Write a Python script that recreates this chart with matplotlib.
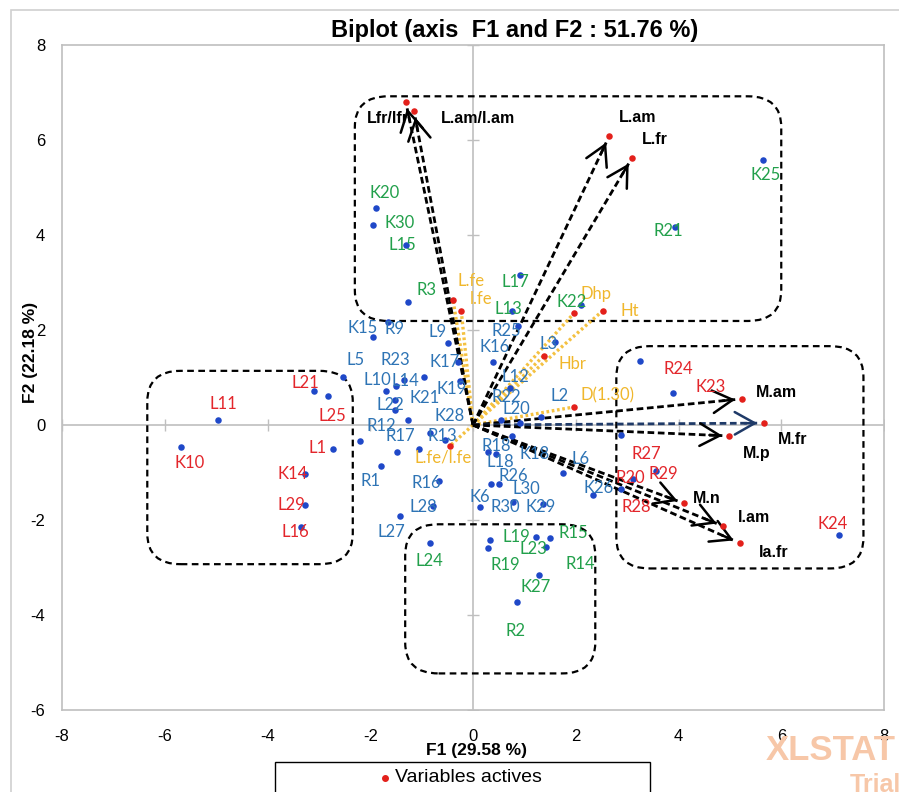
import numpy as np
import matplotlib
matplotlib.use("Agg")
import matplotlib.pyplot as plt
from matplotlib.patches import FancyBboxPatch, Rectangle

plt.rcParams['axes.unicode_minus'] = False

# active variables (red dots, black dashed arrows)
act_names = ["Lfr/lfr", "L.am/l.am", "L.am", "L.fr", "M.am", "M.fr", "M.p", "M.n", "l.am", "la.fr"]
act_x = [-1.31, -1.15, 2.65, 3.10, 5.24, 5.67, 4.99, 4.11, 4.87, 5.20]
act_y = [6.81, 6.62, 6.08, 5.63, 0.55, 0.04, -0.23, -1.65, -2.13, -2.49]

# supplementary variables (yellow dotted lines)
sup_names = ["L.fe", "l.fe", "Dhp", "Ht", "Hbr", "D(1.30)", "L.fe/l.fe"]
sup_x = [-0.39, -0.23, 1.97, 2.53, 1.38, 1.97, -0.45]
sup_y = [2.64, 2.41, 2.36, 2.41, 1.46, 0.38, -0.44]

# observations, by group colour of their label
green_names = ["K20", "K30", "L15", "R3", "L17", "L13", "K22", "R21", "K25",
               "L24", "L19", "R19", "L23", "R15", "R14", "K27", "R2"]
green_x = [-1.89, -1.95, -1.31, -1.27, 0.92, 0.76, 2.11, 3.94, 5.65,
           -0.84, 0.33, 0.29, 1.23, 1.50, 1.42, 1.29, 0.86]
green_y = [4.56, 4.22, 3.78, 2.59, 3.16, 2.41, 2.53, 4.16, 5.57,
           -2.49, -2.43, -2.59, -2.36, -2.38, -2.57, -3.16, -3.73]

red_names = ["L21", "L25", "L11", "K10", "L1", "K14", "L29", "L16",
             "R24", "K23", "R27", "R20", "R28", "R29", "K24"]
red_x = [-3.10, -2.83, -4.97, -5.69, -2.73, -3.27, -3.27, -3.35,
         3.26, 3.90, 2.88, 3.12, 2.88, 3.57, 7.12]
red_y = [0.72, 0.61, 0.11, -0.46, -0.51, -1.03, -1.69, -2.15,
         1.35, 0.68, -0.21, -1.14, -1.35, -0.97, -2.32]

blue_names = ["K15", "R9", "L9", "R25", "K16", "L3", "L5", "R23", "K17", "L10",
              "L14", "K19", "L12", "L2", "L22", "K21", "R22", "L20", "K28", "R12",
              "R17", "R13", "R18", "L18", "K18", "L6", "R1", "R16", "R26", "L30",
              "K26", "K6", "R30", "K29", "L28", "L27"]
blue_x = [-1.95, -1.66, -0.49, 0.88, 0.39, 1.60, -2.53, -1.50, -0.29, -1.70,
          -1.35, -0.25, 0.72, 1.33, -1.52, -0.96, 0.55, 0.92, -0.84, -2.20,
          -1.48, -0.55, 0.29, 0.45, 0.76, 1.75, -1.79, -0.66, 0.51, 0.35,
          2.34, 0.14, 0.78, 1.36, -0.78, -1.42]
blue_y = [1.86, 2.17, 1.73, 2.09, 1.33, 1.75, 1.01, 0.82, 1.33, 0.72,
          0.95, 0.93, 0.78, 0.17, 0.53, 1.01, 0.11, 0.04, -0.17, -0.34,
          -0.57, -0.32, -0.57, -0.61, -0.23, -1.01, -0.86, -1.18, -1.24, -1.24,
          -1.48, -1.73, -1.62, -1.67, -1.71, -1.92]

# observations whose label is hidden under other text
hidden_x = [-1.52, -1.27, -1.05]
hidden_y = [0.32, 0.11, -0.51]

# dashed group boxes: x0, x1, y0, y1
boxes = [(-2.30, 6.00, 2.19, 6.92),
         (-6.34, -2.34, -2.93, 1.14),
         (2.79, 7.60, -3.02, 1.66),
         (-1.32, 2.38, -5.23, -2.09)]

# label offsets in pixels (right, up)
act_off = [(-18, -17), (64, -8), (28, 19), (23, 18), (34, 6), (28, -16),
           (27, -18), (23, 5), (31, 9), (34, -9)]
sup_off = [(18, 19), (20, 12), (22, 19), (27, 0), (29, -8), (33, 12), (-7, -12)]
green_off = [(9, 15), (27, 2), (-3, 0), (19, 12), (-5, -7), (-4, 2), (-10, 3), (-7, -4), (2, -15),
             (0, -18), (26, 3), (17, -17), (-3, -12), (23, 5), (34, -17), (-4, -12), (-2, -29)]
red_off = [(-8, 8), (5, -20), (6, 16), (9, -16), (-15, 1), (-12, 0), (-14, 0), (-6, -5),
           (38, -8), (37, 6), (25, -19), (-3, 1), (15, -18), (7, -3), (-6, 11)]
blue_off = [(-10, 9), (7, -7), (-10, 11), (-12, -5), (2, 15), (-7, -2), (13, 17), (-1, 26),
            (-13, 0), (-8, 11), (2, -1), (-9, -8), (5, 11), (18, 21), (-5, -5), (1, -21),
            (5, 23), (-4, 14), (20, 17), (21, 15), (3, 16), (-2, 4), (8, 6), (4, -8),
            (23, -18), (18, 14), (-11, -15), (-13, -2), (14, 8), (35, -5), (5, 7), (0, 10),
            (-8, -5), (-2, -3), (-10, -1), (-9, -16)]

GREY = "#BFBFBF"
DOT_BLUE = "#1F48C8"
LAB_BLUE = "#2E74B5"
LAB_GREEN = "#22A04B"
LAB_RED = "#E3262B"
YELLOW = "#F4C141"
LAB_FONT = ["Lato", "DejaVu Sans"]
SANS = ["Liberation Sans", "DejaVu Sans"]

fig = plt.figure(figsize=(8.99, 7.92), dpi=100)
ax = fig.add_axes([62 / 899, 1 - 710 / 792, 822 / 899, 665 / 792])
ax.set_xlim(-8, 8)
ax.set_ylim(-6, 8)
xt = np.arange(-8, 9, 2)
yt = np.arange(-6, 9, 2)
ax.set_xticks(xt)
ax.set_yticks(yt)
ax.tick_params(length=0, labelsize=12)
ax.tick_params(axis="x", pad=14)
ax.tick_params(axis="y", pad=12)
for lab in ax.get_xticklabels() + ax.get_yticklabels():
    lab.set_family(SANS)
for s in ax.spines.values():
    s.set_color(GREY)
    s.set_linewidth(1.2)

ax.axhline(0, color=GREY, lw=1.2, zorder=1)
ax.axvline(0, color=GREY, lw=1.2, zorder=1)
ax.plot(np.zeros(len(yt)), yt, ls="none", marker="_", ms=9, color=GREY, zorder=1)
ax.plot(xt, np.zeros(len(xt)), ls="none", marker="|", ms=9, color=GREY, zorder=1)

for x0, x1, y0, y1 in boxes:
    ax.add_patch(FancyBboxPatch((x0, y0), x1 - x0, y1 - y0,
                                boxstyle="round,pad=0,rounding_size=0.65",
                                fill=False, ec="black", lw=1.6, ls=(0, (3, 2)), zorder=2))

# supplementary variables
for n, x, y, off in zip(sup_names, sup_x, sup_y, sup_off):
    ax.plot([0, x], [0, y], ls=(0, (0.8, 0.8)), lw=2.4, color=YELLOW, zorder=3)
    ax.annotate(n, (x, y), xytext=off, textcoords="offset pixels", ha="center", va="center",
                color="#F0B72C", fontsize=12, family=LAB_FONT, zorder=6)

# active variables
inv = ax.transData.inverted()
p0 = ax.transData.transform((0, 0))
for n, x, y, off in zip(act_names, act_x, act_y, act_off):
    col = "#1F3A68" if n == "M.fr" else "black"
    p1 = ax.transData.transform((x, y))
    d = (p1 - p0) / np.hypot(*(p1 - p0))
    tip = inv.transform(p1 - d * 7)
    back = inv.transform(p1 - d * 20)
    ax.plot([0, tip[0]], [0, tip[1]], ls=(0, (2.4, 1.3)), lw=2.0, color=col, zorder=4)
    ax.annotate("", xy=tip, xytext=back,
                arrowprops=dict(arrowstyle="->,head_length=0.8,head_width=0.45", lw=1.8,
                                color=col, shrinkA=0, shrinkB=0, mutation_scale=18), zorder=4)
    ax.annotate(n, (x, y), xytext=off, textcoords="offset pixels", ha="center", va="center",
                color="black", fontsize=11.5, fontweight="bold", family=SANS, zorder=6)

ax.scatter(act_x, act_y, s=22, color="#E3201B", zorder=5, linewidths=0)
ax.scatter(sup_x, sup_y, s=22, color="#E3201B", zorder=5, linewidths=0)

# observations
for names, xs, ys, offs, col in [(green_names, green_x, green_y, green_off, LAB_GREEN),
                                  (red_names, red_x, red_y, red_off, LAB_RED),
                                  (blue_names, blue_x, blue_y, blue_off, LAB_BLUE)]:
    ax.scatter(xs, ys, s=22, color=DOT_BLUE, zorder=5, linewidths=0)
    for n, x, y, off in zip(names, xs, ys, offs):
        ax.annotate(n, (x, y), xytext=off, textcoords="offset pixels", ha="center",
                    va="center", color=col, fontsize=12, family=LAB_FONT, zorder=6)
ax.scatter(hidden_x, hidden_y, s=22, color=DOT_BLUE, zorder=5, linewidths=0)

# titles
fig.text(515 / 899, 1 - 30 / 792, "Biplot (axis  F1 and F2 : 51.76 %)", ha="center", va="center",
         fontsize=17, fontweight="bold", family=SANS)
fig.text(476 / 899, 1 - 750 / 792, "F1 (29.58 %)", ha="center", va="center",
         fontsize=12.5, fontweight="bold", family=SANS)
fig.text(31 / 899, 1 - 352 / 792, "F2 (22.18 %)", ha="center", va="center", rotation=90,
         fontsize=12.5, fontweight="bold", family=SANS)

# outer chart frame
fig.patches.append(Rectangle((11 / 899, -0.1), 1.2, 1 - 10 / 792 + 0.1, transform=fig.transFigure,
                             fill=False, ec="#D0D0D0", lw=1.2))

# legend box (cut at bottom)
fig.patches.append(Rectangle((275 / 899, -0.05), 375 / 899, 0.05 + 1 - 762 / 792,
                             transform=fig.transFigure, fill=False, ec="black", lw=1.0))
fig.lines.append(plt.Line2D([385 / 899], [1 - 778 / 792], transform=fig.transFigure,
                            marker="o", ms=4, color="#E3201B", ls="none"))
fig.text(395 / 899, 1 - 778 / 792, "Variables actives", ha="left", va="center",
         fontsize=14, family=SANS)

# watermark
fig.text(766 / 899, 1 - 750 / 792, "XLSTAT", ha="left", va="center", fontsize=25,
         fontweight="bold", color="#F7C7A8", family=SANS)
fig.text(850 / 899, 1 - 785 / 792, "Trial", ha="left", va="center", fontsize=18,
         fontweight="bold", color="#F7C7A8", family=SANS)

fig.savefig("out.png", dpi=100)
